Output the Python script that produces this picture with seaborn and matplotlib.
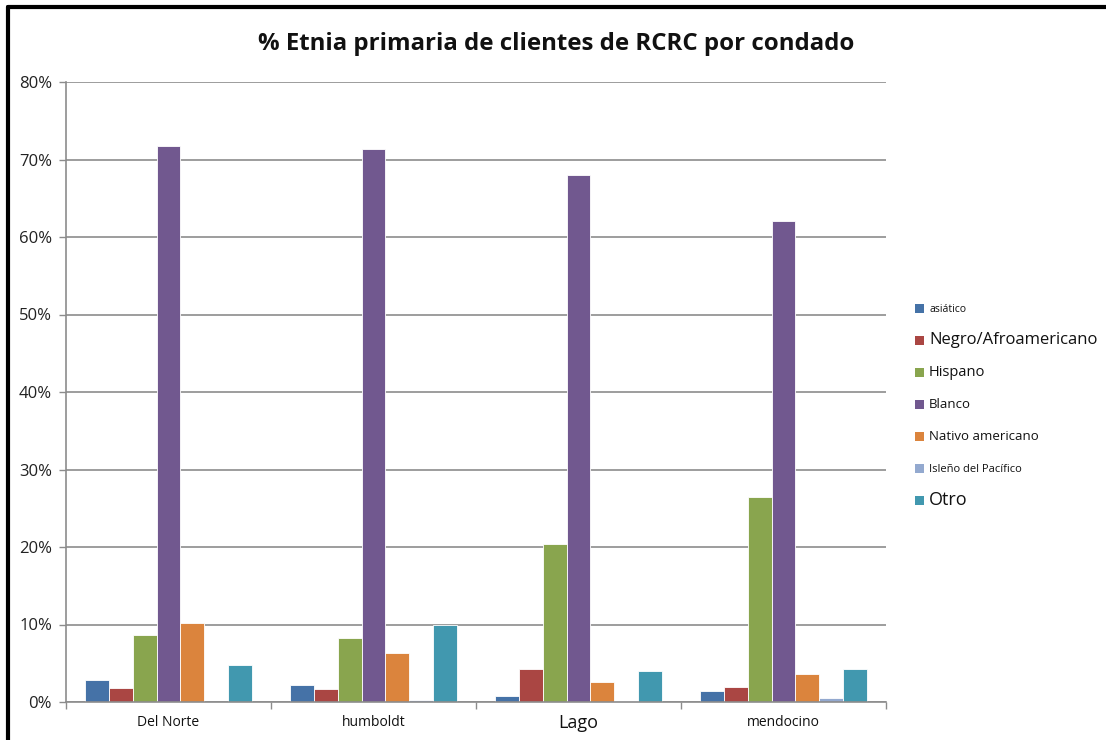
import matplotlib
matplotlib.use("Agg")
import matplotlib.pyplot as plt
import seaborn as sns
import pandas as pd
from matplotlib.patches import Rectangle
from matplotlib.lines import Line2D

counties = ["Del Norte", "humboldt", "Lago", "mendocino"]
ethnicities = ["asiático", "Negro/Afroamericano", "Hispano", "Blanco",
               "Nativo americano", "Isleño del Pacífico", "Otro"]
asiatico = [2.8, 2.2, 0.8, 1.4]
negro = [1.8, 1.7, 4.2, 1.9]
hispano = [8.6, 8.2, 20.4, 26.4]
blanco = [71.8, 71.3, 68.0, 62.1]
nativo = [10.2, 6.3, 2.6, 3.6]
isleno = [0.0, 0.3, 0.1, 0.5]
otro = [4.8, 10.0, 4.0, 4.2]
yticks = [0, 10, 20, 30, 40, 50, 60, 70, 80]
ytick_labels = ["0%", "10%", "20%", "30%", "40%", "50%", "60%", "70%", "80%"]
title = "% Etnia primaria de clientes de RCRC por condado"

colors = ["#4572A7", "#AA4643", "#89A54E", "#71588F", "#DB843D", "#93A9CF", "#4198AF"]
series = [asiatico, negro, hispano, blanco, nativo, isleno, otro]
rows = []
for eth, vals in zip(ethnicities, series):
    for c, v in zip(counties, vals):
        rows.append({"Condado": c, "Etnia": eth, "Valor": v})
df = pd.DataFrame(rows)

sns.set_style("white")
plt.rcParams["font.family"] = ["Open Sans", "DejaVu Sans"]

fig = plt.figure(figsize=(11.06, 7.4), dpi=100)
ax = fig.add_axes([66 / 1106, 38 / 740, 820 / 1106, 620 / 740])

sns.barplot(data=df, x="Condado", y="Valor", hue="Etnia", order=counties,
            hue_order=ethnicities, palette=colors, saturation=1, width=0.818, gap=0,
            edgecolor="white", linewidth=0.6, ax=ax, legend=False, errorbar=None)

ax.set_xlim(-0.5, 3.5)
ax.set_ylim(0, 80)
ax.set_yticks(yticks)
ax.set_yticklabels(ytick_labels, fontsize=12, color="#222222")
ax.yaxis.grid(True, color="#8c8c8c", linewidth=1.2)
ax.set_axisbelow(True)
ax.tick_params(axis="y", length=5, width=1, color="#8c8c8c", pad=5, left=True)

ax.set_xticks(range(len(counties)))
ax.set_xticklabels(counties, color="#111111")
xsizes = [10, 10, 13, 10]
for lab, s in zip(ax.get_xticklabels(), xsizes):
    lab.set_fontsize(s)
ax.tick_params(axis="x", length=0, pad=9)
ax.set_xticks([-0.5, 0.5, 1.5, 2.5, 3.5], minor=True)
ax.tick_params(axis="x", which="minor", length=5, width=1, color="#8c8c8c", bottom=True)
ax.set_xlabel("")
ax.set_ylabel("")
for s in ["top", "right"]:
    ax.spines[s].set_visible(False)
for s in ["left", "bottom"]:
    ax.spines[s].set_color("#8c8c8c")
    ax.spines[s].set_linewidth(1.2)

fig.text(556 / 1106, 1 - 44 / 740, title, ha="center", va="center",
         fontsize=17.3, fontweight="bold", color="#111111")

# legend
leg_y = [309, 340, 373, 405, 437, 469, 500]
leg_sizes = [7.5, 12, 10.5, 9.5, 9.5, 8, 13]
for eth, col, yy, fs in zip(ethnicities, colors, leg_y, leg_sizes):
    fig.patches.append(Rectangle((915 / 1106, 1 - (yy + 4.5) / 740), 9 / 1106, 9 / 740,
                                 transform=fig.transFigure, facecolor=col,
                                 edgecolor="none"))
    fig.text(929 / 1106, 1 - yy / 740, eth, ha="left", va="center",
             fontsize=fs, color="#111111")

# outer frame (top and left)
fig.lines.append(Line2D([8 / 1106, 1], [1 - 7 / 740, 1 - 7 / 740],
                        transform=fig.transFigure, color="black", linewidth=3))
fig.lines.append(Line2D([8 / 1106, 8 / 1106], [0, 1 - 7 / 740],
                        transform=fig.transFigure, color="black", linewidth=3))

fig.savefig("out.png", dpi=100, facecolor="white")
